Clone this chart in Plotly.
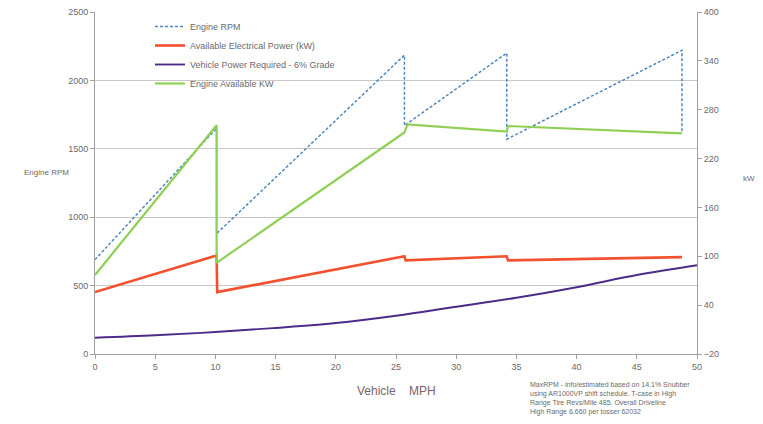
import plotly.graph_objects as go

# Engine RPM (left axis)
rpm_mph = [0, 10.1, 10.1, 25.7, 25.7, 34.2, 34.2, 48.75, 48.75]
rpm_val = [690, 1650, 880, 2185, 1670, 2200, 1570, 2220, 1615]

# Available Electrical Power kW (right axis)
elec_mph = [0, 10.1, 10.15, 25.7, 25.8, 34.2, 34.3, 48.75]
elec_val = [56, 101, 56, 100, 95, 100, 95, 99]

# Vehicle Power Required - 6% Grade (right axis)
req_mph = [0, 5, 10, 15, 20, 25, 30, 35, 40, 45, 50]
req_val = [0, 3, 7, 12, 18, 27, 38, 49, 62, 77, 89]

# Engine Available kW (right axis)
eng_mph = [0, 10.1, 10.1, 25.7, 25.95, 34.2, 34.3, 48.75]
eng_val = [77, 261, 92, 252, 262, 253, 260, 251]

left_ticks = [0, 500, 1000, 1500, 2000, 2500]
right_ticks = [-20, 40, 100, 160, 220, 280, 340, 400]
x_ticks = [0, 5, 10, 15, 20, 25, 30, 35, 40, 45, 50]

note = ("MaxRPM - info/estimated based on 14.1% Snubber<br>"
        "using AR1000VP shift schedule. T-case in High<br>"
        "Range Tire Revs/Mile 485. Overall Driveline<br>"
        "High Range 6.660 per tosser 62032")

FONT = "Liberation Sans, Arial, sans-serif"
GRAY = "#6a6a6a"

fig = go.Figure()
fig.add_trace(go.Scatter(x=rpm_mph, y=rpm_val, name="Engine RPM", mode="lines",
                         line=dict(color="#4f86c0", width=1.5, dash="3px,2px"), yaxis="y"))
fig.add_trace(go.Scatter(x=elec_mph, y=elec_val, name="Available Electrical Power (kW)", mode="lines",
                         line=dict(color="#f2502e", width=2.6), yaxis="y2"))
fig.add_trace(go.Scatter(x=req_mph, y=req_val, name="Vehicle Power Required - 6% Grade", mode="lines",
                         line=dict(color="#4e2b88", width=1.9, shape="spline"), yaxis="y2"))
fig.add_trace(go.Scatter(x=eng_mph, y=eng_val, name="Engine Available KW", mode="lines",
                         line=dict(color="#90cf55", width=2.2), yaxis="y2"))

pl, pr, pt, pb = 95, 763 - 66, 12, 424 - 70

fig.update_layout(
    width=763, height=424,
    margin=dict(l=95, r=66, t=12, b=70, autoexpand=False),
    paper_bgcolor="white", plot_bgcolor="white",
    font=dict(family=FONT, size=9, color=GRAY),
    showlegend=True,
    legend=dict(x=(150 - pl) / (pr - pl), y=1.0, xanchor="left", yanchor="top",
                bgcolor="rgba(255,255,255,0)", borderwidth=0,
                font=dict(size=9, color=GRAY), tracegroupgap=0,
                itemwidth=30),
    xaxis=dict(range=[0, 50], tickvals=x_ticks, showgrid=False,
               showline=True, linecolor="#a0a0a0", linewidth=1,
               ticks="outside", ticklen=4, tickcolor="#a0a0a0",
               tickfont=dict(size=9, color=GRAY), zeroline=False),
    yaxis=dict(range=[0, 2500], tickvals=left_ticks, showgrid=True,
               gridcolor="#c8c8c8", gridwidth=1.3,
               showline=True, linecolor="#a0a0a0", linewidth=1,
               ticks="outside", ticklen=4, tickcolor="#a0a0a0",
               tickfont=dict(size=9, color=GRAY), zeroline=False),
    yaxis2=dict(range=[-20, 400], tickvals=right_ticks, overlaying="y", side="right",
                showgrid=False, showline=True, linecolor="#a0a0a0", linewidth=1,
                ticks="outside", ticklen=4, tickcolor="#a0a0a0",
                tickfont=dict(size=9, color=GRAY), zeroline=False),
)

anns = []
specs = [
    ("Engine RPM", 22, 172, 8, GRAY),
    ("Vehicle&nbsp;&nbsp;&nbsp; MPH", 355, 391, 12, "#7a6464"),
    ("kW", 741, 178, 8, GRAY),
    (note, 528, 398, 7, GRAY),
]
for text, px, py, fs, col in specs:
    anns.append(dict(text=text, x=(px - pl) / (pr - pl), y=(pb - py) / (pb - pt),
                     xref="paper", yref="paper", xanchor="left", yanchor="middle",
                     showarrow=False, align="left",
                     font=dict(size=fs, color=col, family=FONT)))
fig.update_layout(annotations=anns)

fig.write_html("out.html", config={"displayModeBar": False})

# remove default page margin so the chart sits at the window origin
with open("out.html", "r", encoding="utf-8") as f:
    html = f.read()
html = html.replace("<body>", '<body style="margin:0;overflow:hidden">', 1)
with open("out.html", "w", encoding="utf-8") as f:
    f.write(html)
